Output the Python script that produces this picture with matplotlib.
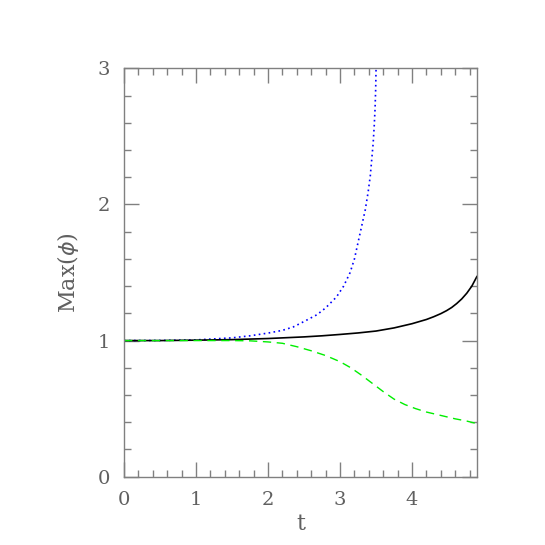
import matplotlib
matplotlib.use("Agg")
import matplotlib.pyplot as plt
from matplotlib.ticker import MultipleLocator

# Data
t_blue = [0, 0.5, 1.0, 1.5, 1.75, 2.0, 2.2, 2.35, 2.5, 2.68, 2.8, 2.95, 3.05, 3.14,
          3.2, 3.25, 3.3, 3.35, 3.39, 3.42, 3.44, 3.46, 3.475, 3.486, 3.495, 3.50]
y_blue = [1.0, 1.001, 1.005, 1.02, 1.035, 1.055, 1.075, 1.10, 1.14, 1.19, 1.24, 1.32, 1.40, 1.50,
          1.60, 1.72, 1.84, 1.96, 2.09, 2.21, 2.33, 2.45, 2.58, 2.70, 2.85, 3.0]

t_black = [0, 0.5, 1, 1.5, 2, 2.5, 2.75, 3, 3.25, 3.5, 3.75, 4.0, 4.2, 4.3, 4.4, 4.48, 4.55,
           4.62, 4.69, 4.76, 4.83, 4.9]
y_black = [1.0, 1.0, 1.003, 1.007, 1.015, 1.027, 1.035, 1.045, 1.056, 1.07, 1.093, 1.124, 1.155,
           1.175, 1.198, 1.22, 1.243, 1.272, 1.306, 1.348, 1.40, 1.47]

t_green = [0, 0.5, 1, 1.5, 1.75, 2, 2.2, 2.4, 2.6, 2.8, 3.0, 3.15, 3.3, 3.45, 3.6, 3.75, 3.9,
           4.05, 4.2, 4.4, 4.6, 4.75, 4.9]
y_green = [1.0, 1.0, 1.0, 1.0, 0.998, 0.99, 0.98, 0.955, 0.925, 0.89, 0.845, 0.80, 0.745, 0.685,
           0.625, 0.57, 0.53, 0.50, 0.475, 0.45, 0.425, 0.41, 0.39]

x_ticks = [0, 1, 2, 3, 4]
y_ticks = [0, 1, 2, 3]

fig = plt.figure(figsize=(5.45, 5.45), dpi=100)
ax = fig.add_axes([0.2275, 0.1253, 0.6475, 0.7494])

ax.plot(t_blue, y_blue, color="blue", linestyle=(0, (1, 2)), linewidth=1.2)
ax.plot(t_black, y_black, color="black", linestyle="-", linewidth=1.2)
ax.plot(t_green, y_green, color="#00ee00", linestyle=(0, (6, 4)), linewidth=1.0)

ax.set_xlim(0, 4.9)
ax.set_ylim(0, 3)
ax.set_xticks(x_ticks)
ax.set_yticks(y_ticks)
ax.xaxis.set_minor_locator(MultipleLocator(0.2))
ax.yaxis.set_minor_locator(MultipleLocator(0.2))

gray = "#808080"
txt = "#606060"
for s in ax.spines.values():
    s.set_color(gray)
    s.set_linewidth(1.0)
ax.tick_params(which="both", direction="in", top=True, right=True, colors=gray,
               labelcolor=txt, labelsize=14, width=1.0)
ax.tick_params(which="major", length=10.6)
ax.tick_params(which="minor", length=5.3)
ax.tick_params(axis="x", which="major", pad=10)
ax.tick_params(axis="y", which="major", pad=10)
for lab in ax.get_xticklabels() + ax.get_yticklabels():
    lab.set_fontfamily("DejaVu Serif")

ax.set_xlabel("t", fontsize=16, color=txt, family="DejaVu Serif", labelpad=3)
ax.set_ylabel(r"Max($\phi$)", fontsize=16, color=txt, family="DejaVu Serif", labelpad=12)

fig.savefig("out.png", dpi=100)
